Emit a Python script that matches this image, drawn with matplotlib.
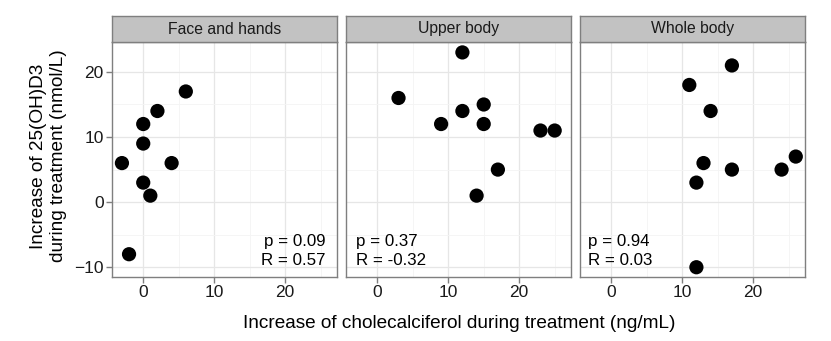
import matplotlib
matplotlib.use("Agg")
import matplotlib.pyplot as plt
from matplotlib.ticker import MultipleLocator

plt.rcParams['font.family'] = ['Liberation Sans', 'DejaVu Sans']

panels = ["Face and hands", "Upper body", "Whole body"]
x_face = [-3, -2, 0, 0, 0, 1, 2, 4, 6]
y_face = [6, -8, 12, 9, 3, 1, 14, 6, 17]
x_upper = [3, 9, 12, 12, 14, 15, 15, 17, 23, 25]
y_upper = [16, 12, 23, 14, 1, 15, 12, 5, 11, 11]
x_whole = [11, 12, 12, 13, 14, 17, 17, 24, 26]
y_whole = [18, 3, -10, 6, 14, 21, 5, 5, 7]
p_vals = ["0.09", "0.37", "0.94"]
r_vals = ["0.57", "-0.32", "0.03"]
xticks = [0, 10, 20]
yticks = [-10, 0, 10, 20]

xs = [x_face, x_upper, x_whole]
ys = [y_face, y_upper, y_whole]

W, H = 831, 341
fig = plt.figure(figsize=(W / 100, H / 100), dpi=100)

lefts = [112, 346, 580]
pw = 225
top_plot = 42
bottom_plot = 277
strip_top = 16

border = "#7F7F7F"
for i in range(3):
    l = lefts[i]
    ax = fig.add_axes([l / W, 1 - bottom_plot / H, pw / W, (bottom_plot - top_plot) / H])
    ax.set_xlim(-4.4, 27.3)
    ax.set_ylim(-11.5, 24.6)
    ax.set_facecolor("white")
    ax.xaxis.set_minor_locator(MultipleLocator(5))
    ax.yaxis.set_minor_locator(MultipleLocator(5))
    ax.set_xticks(xticks)
    ax.set_yticks(yticks)
    ax.grid(True, which="major", color="#E6E6E6", linewidth=0.9, zorder=0)
    ax.grid(True, which="minor", color="#F4F4F4", linewidth=0.6, zorder=0)
    ax.set_axisbelow(True)
    for s in ax.spines.values():
        s.set_color(border)
        s.set_linewidth(1.0)
    ax.tick_params(axis="both", which="major", color=border, length=4, width=1,
                   labelsize=12.5, labelcolor="#1a1a1a", pad=2)
    ax.tick_params(axis="both", which="minor", length=0)
    if i > 0:
        ax.tick_params(axis="y", which="both", length=0, labelleft=False)
    ax.scatter(xs[i], ys[i], s=105, color="black", edgecolors="none", zorder=3)
    txt = f"p = {p_vals[i]}\nR = {r_vals[i]}"
    if i == 0:
        ax.text(0.947, 0.04, txt, transform=ax.transAxes, ha="right", va="bottom",
                fontsize=12.2, color="black", linespacing=1.32)
    else:
        xf = 0.044 if i == 1 else 0.035
        ax.text(xf, 0.04, txt, transform=ax.transAxes, ha="left", va="bottom",
                fontsize=12.2, color="black", linespacing=1.32)
    # strip
    sax = fig.add_axes([l / W, 1 - top_plot / H, pw / W, (top_plot - strip_top) / H])
    sax.set_facecolor("#C2C2C2")
    sax.set_xticks([])
    sax.set_yticks([])
    for s in sax.spines.values():
        s.set_color(border)
        s.set_linewidth(1.0)
    sax.text(0.5, 0.5, panels[i], transform=sax.transAxes, ha="center", va="center",
             fontsize=11.3, color="#1a1a1a")

fig.text((112 + 806) / 2 / W, 1 - 323 / H,
         "Increase of cholecalciferol during treatment (ng/mL)",
         ha="center", va="center", fontsize=13.7, color="black")
fig.text(48.5 / W, 1 - 156 / H, "Increase of 25(OH)D3\nduring treatment (nmol/L)",
         ha="center", va="center", rotation=90, fontsize=13.7, color="black",
         linespacing=1.2)

fig.savefig("out.png", dpi=100, facecolor="white")
